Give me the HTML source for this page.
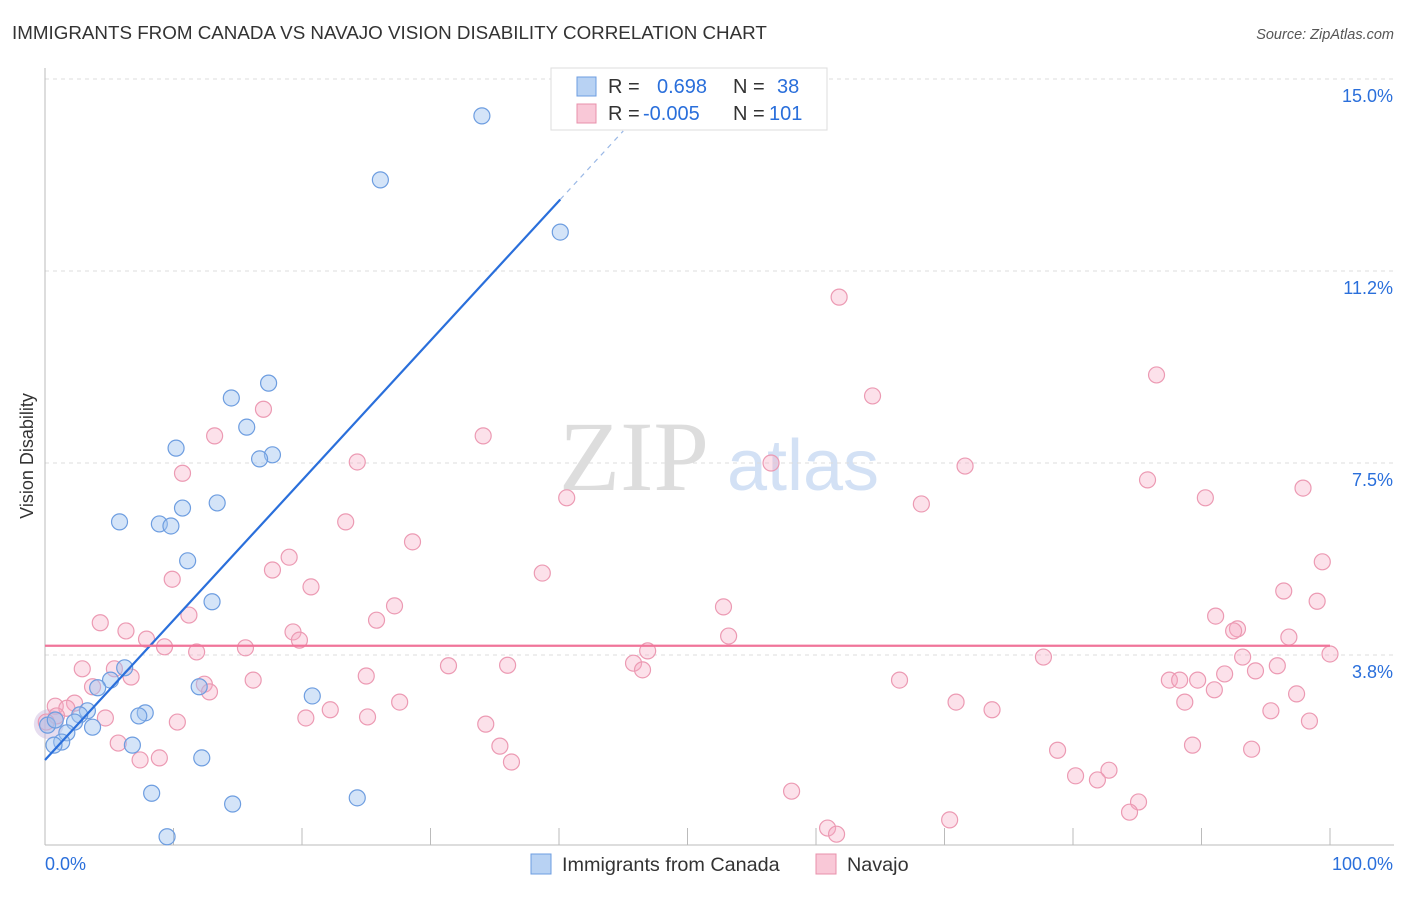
<!DOCTYPE html>
<html><head><meta charset="utf-8">
<style>
body{margin:0;background:#fff;font-family:"Liberation Sans",sans-serif;}
svg text{font-family:"Liberation Sans",sans-serif;}
</style></head>
<body>
<svg width="1406" height="892" viewBox="0 0 1406 892" id="chart">
<text x="12" y="39" font-size="18.8" fill="#333">IMMIGRANTS FROM CANADA VS NAVAJO VISION DISABILITY CORRELATION CHART</text>
<text x="1394" y="39" font-size="14.5" fill="#555" font-style="italic" text-anchor="end">Source: ZipAtlas.com</text>
<text x="0" y="0" transform="translate(33,456) rotate(-90)" font-size="18" fill="#333" text-anchor="middle">Vision Disability</text>
<g>
<text x="634" y="490" font-size="100" fill="#ddd" text-anchor="middle" style="font-family:'Liberation Serif',serif">ZIP</text>
<text x="803" y="490" font-size="72" fill="#d3e1f5" text-anchor="middle">atlas</text>
</g>
<g id="grid"></g>
<g id="marks"></g>
<g>
<rect x="551" y="68" width="276" height="62" fill="#fff" stroke="#ddd"/>
<rect x="577" y="77" width="19" height="19" fill="#b8d2f3" stroke="#6d9de0"/>
<rect x="577" y="104" width="19" height="19" fill="#f9c8d7" stroke="#e890ab"/>
<text x="608" y="93" font-size="20" fill="#333">R = </text><text x="657" y="93" font-size="20" fill="#2a6fdb">0.698</text>
<text x="733" y="93" font-size="20" fill="#333">N = </text><text x="777" y="93" font-size="20" fill="#2a6fdb">38</text>
<text x="608" y="120" font-size="20" fill="#333">R = </text><text x="643" y="120" font-size="20" fill="#2a6fdb">-0.005</text>
<text x="733" y="120" font-size="20" fill="#333">N = </text><text x="769" y="120" font-size="20" fill="#2a6fdb">101</text>
</g>
<g>
<rect x="531" y="854" width="20" height="20" fill="#b8d2f3" stroke="#6d9de0"/>
<text x="562" y="871" font-size="19.8" fill="#333">Immigrants from Canada</text>
<rect x="816" y="854" width="20" height="20" fill="#f9c8d7" stroke="#e890ab"/>
<text x="847" y="871" font-size="19.8" fill="#333">Navajo</text>
</g>
</svg>
<script>
const yTicks=[3.75,7.5,11.25,15];
const yTickLabels=["3.8%","7.5%","11.2%","15.0%"];
const xTickVals=[0,10,20,30,40,50,60,70,80,90,100];
const canadaX=[34.0,26.1,40.1,17.4,14.5,15.7,10.2,17.7,16.7,13.4,10.7,5.8,8.9,9.8,11.1,13.0,6.2,5.1,4.1,12.0,20.8,7.8,3.3,7.3,2.7,2.3,3.7,1.7,1.3,0.7,6.8,12.2,8.3,14.6,24.3,9.5,0.2,0.8];
const canadaY=[14.28,13.03,12.01,9.06,8.77,8.20,7.79,7.66,7.58,6.72,6.62,6.35,6.31,6.27,5.59,4.79,3.50,3.26,3.11,3.13,2.95,2.62,2.66,2.56,2.58,2.44,2.34,2.23,2.05,1.99,1.99,1.74,1.05,0.84,0.96,0.20,2.38,2.48];
const navajoX=[61.8,86.5,64.4,17.0,13.2,34.1,56.5,24.3,71.6,10.7,85.8,90.3,97.9,40.6,68.2,23.4,28.6,19.0,17.7,38.7,9.9,20.7,99.4,96.4,99.0,27.2,52.8,11.2,25.8,91.1,4.3,6.3,19.3,92.8,92.5,7.9,19.8,53.2,96.8,9.3,15.6,11.8,46.9,93.2,100.0,2.9,31.4,36.0,45.8,46.5,95.9,77.7,94.2,91.8,25.0,16.2,5.4,6.7,3.7,87.5,88.3,89.7,66.5,12.4,12.8,91.0,97.4,70.9,27.6,88.7,0.8,2.3,1.7,0.9,4.7,20.3,22.2,25.1,10.3,34.3,73.7,95.4,98.4,5.7,35.4,78.8,89.3,93.9,7.4,8.9,36.3,82.8,80.2,81.9,58.1,85.1,84.4,70.4,60.9,61.6,0.1];
const navajoY=[10.74,9.22,8.81,8.55,8.03,8.03,7.50,7.52,7.44,7.30,7.17,6.82,7.01,6.82,6.70,6.35,5.96,5.66,5.41,5.35,5.23,5.08,5.57,5.00,4.80,4.71,4.69,4.53,4.43,4.51,4.38,4.22,4.20,4.26,4.22,4.06,4.04,4.12,4.10,3.91,3.89,3.81,3.83,3.71,3.77,3.48,3.54,3.55,3.59,3.46,3.54,3.71,3.44,3.38,3.34,3.26,3.48,3.32,3.13,3.26,3.26,3.26,3.26,3.18,3.03,3.07,2.99,2.83,2.83,2.83,2.75,2.81,2.71,2.56,2.52,2.52,2.68,2.54,2.44,2.40,2.68,2.66,2.46,2.03,1.97,1.89,1.99,1.91,1.70,1.74,1.66,1.50,1.39,1.31,1.09,0.88,0.68,0.53,0.37,0.25,2.44];
const canadaFit=[1.70,0.273];
const navajoFit=[3.93,0];
const X0=45,X1=1330,YB=847,PPY=51.2;
function sx(v){return X0+(X1-X0)*v/100;}
function sy(v){return YB-v*PPY;}
const NS="http://www.w3.org/2000/svg";
function mk(t,a,p){const e=document.createElementNS(NS,t);for(const k in a)e.setAttribute(k,a[k]);p.appendChild(e);return e;}
const grid=document.getElementById('grid'),marks=document.getElementById('marks');
yTicks.forEach((t,i)=>{
 const l=mk('line',{x1:45,x2:1394,y1:sy(t),y2:sy(t),stroke:'#ddd','stroke-dasharray':'4,4'},grid);
 
 
 const tx=mk('text',{x:1393,y:sy(t)+23,'font-size':18,fill:'#2a6fdb','text-anchor':'end'},grid);
 tx.textContent=yTickLabels[i];
 
 
});
const ax=mk('line',{x1:45,x2:45,y1:68,y2:845,stroke:'#bbb'},grid);


const bx=mk('line',{x1:45,x2:1394,y1:845,y2:845,stroke:'#bbb'},grid);


xTickVals.forEach(v=>{
 const l=mk('line',{x1:sx(v),x2:sx(v),y1:828,y2:845,stroke:'#bbb'},grid);
 
 
});
[[0,'0.0%','start',45],[100,'100.0%','end',1393]].forEach(d=>{
 const t=mk('text',{x:d[3],y:870,'font-size':18,fill:'#2a6fdb','text-anchor':d[2]},grid);
 t.textContent=d[1];
 
 
});
const big=mk('circle',{cx:sx(0.3),cy:sy(2.4),r:15,fill:'rgba(200,180,220,0.45)',stroke:'none'},marks);


navajoX.forEach((x,i)=>{
 const c=mk('circle',{cx:sx(x),cy:sy(navajoY[i]),r:8,fill:'rgba(245,170,195,0.35)',stroke:'#ec9ab3','stroke-width':1.2},marks);
 
 
});
canadaX.forEach((x,i)=>{
 const c=mk('circle',{cx:sx(x),cy:sy(canadaY[i]),r:8,fill:'rgba(160,195,240,0.45)',stroke:'#6d9de0','stroke-width':1.2},marks);
 
 
});
const f=x=>canadaFit[0]+canadaFit[1]*x;
const bl=mk('line',{x1:sx(0),y1:sy(f(0)),x2:sx(40.1),y2:sy(f(40.1)),stroke:'#2a6fdb','stroke-width':2.2},marks);


const bd=mk('line',{x1:sx(40.1),y1:sy(f(40.1)),x2:sx(45),y2:sy(f(45)),stroke:'#9ab8e6','stroke-width':1.2,'stroke-dasharray':'5,5'},marks);


const pl=mk('line',{x1:sx(0),y1:sy(navajoFit[0]),x2:sx(100),y2:sy(navajoFit[0]+navajoFit[1]*100),stroke:'#f0759a','stroke-width':2.2},marks);


</script>
</body></html>
